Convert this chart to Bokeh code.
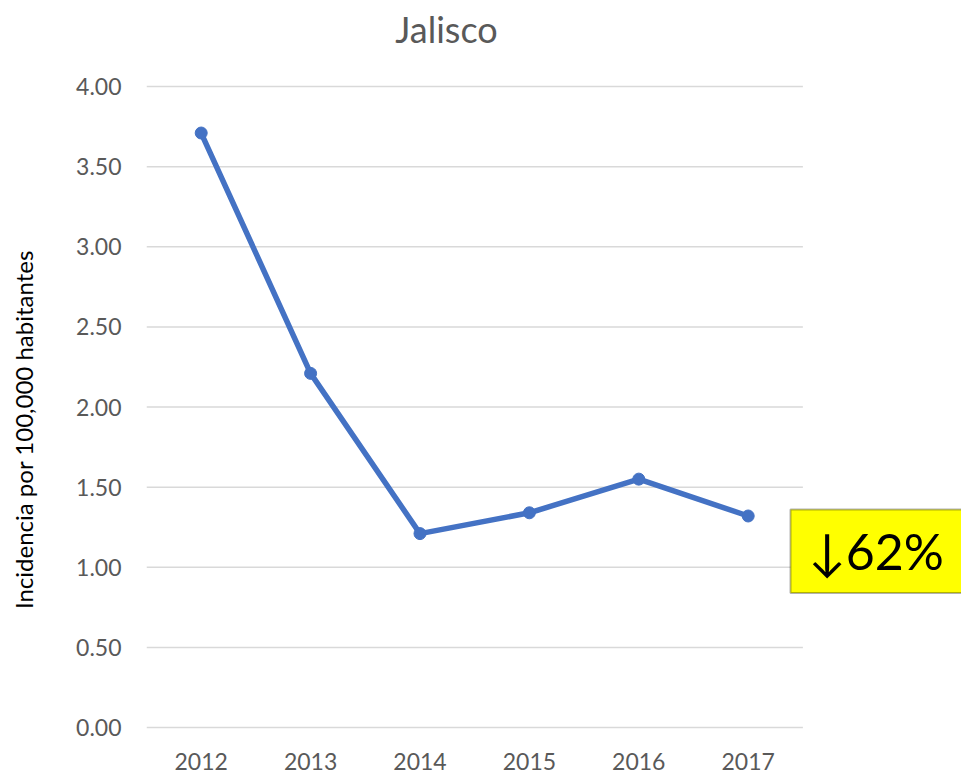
import math
from bokeh.plotting import figure
from bokeh.layouts import row
from bokeh.models import Range1d, FixedTicker, NumeralTickFormatter, BoxAnnotation, Label
from bokeh.core.properties import value
from bokeh.embed import file_html
from bokeh.resources import INLINE

title = "Jalisco"
years = ["2012", "2013", "2014", "2015", "2016", "2017"]
incidence = [3.71, 2.21, 1.21, 1.34, 1.55, 1.32]
y_ticks = [0.0, 0.5, 1.0, 1.5, 2.0, 2.5, 3.0, 3.5, 4.0]
y_label = "Incidencia por 100,000 habitantes"
badge_text = "\u219362%"
badge_value_top = 1.36
badge_value_bottom = 0.84

FONT = "Lato"
xs = list(range(len(years)))

# narrow strip holding the vertical axis title
LW = 40
pl = figure(width=LW, height=774, output_backend="svg", toolbar_location=None,
            x_range=Range1d(0, LW), y_range=Range1d(0, 774),
            x_axis_type=None, y_axis_type=None,
            min_border_left=0, min_border_right=0, min_border_top=0, min_border_bottom=0)
pl.outline_line_color = None
pl.xgrid.visible = False
pl.ygrid.visible = False
pl.text(x=[23], y=[319], text=[y_label], angle=math.pi / 2,
        text_font=value(FONT), text_font_size="24px", text_color="black",
        text_align="center", text_baseline="middle")

# main chart; the frame extends to the top so the title can sit inside it
p = figure(width=961 - LW, height=774, output_backend="svg", toolbar_location=None,
           x_range=Range1d(-0.5, 6.95), y_range=Range1d(-0.0187, 4.537),
           min_border_left=146 - LW, min_border_right=0, min_border_top=0, min_border_bottom=44)
p.outline_line_color = None
p.background_fill_color = "white"
p.border_fill_color = "white"
p.xgrid.visible = False
p.ygrid.visible = False

# grid lines spanning the category area only
p.segment(x0=[-0.5] * len(y_ticks), x1=[len(years) - 0.5] * len(y_ticks),
          y0=y_ticks, y1=y_ticks, line_color="#d9d9d9", line_width=1.5)

p.line(xs, incidence, line_color="#4472C4", line_width=5.5, line_join="round")
p.scatter(xs, incidence, size=12, fill_color="#4472C4", line_color="#4472C4")

# x axis
p.xaxis.ticker = FixedTicker(ticks=xs)
p.xaxis.major_label_overrides = {i: y for i, y in enumerate(years)}
p.xaxis.axis_line_color = None
p.xaxis.major_tick_line_color = None
p.xaxis.minor_tick_line_color = None
p.xaxis.major_label_text_font = FONT
p.xaxis.major_label_text_font_size = "23px"
p.xaxis.major_label_text_color = "#595959"
p.xaxis.major_label_standoff = 16

# y axis
p.yaxis.ticker = FixedTicker(ticks=y_ticks)
p.yaxis.formatter = NumeralTickFormatter(format="0.00")
p.yaxis.axis_line_color = None
p.yaxis.major_tick_line_color = None
p.yaxis.minor_tick_line_color = None
p.yaxis.major_label_text_font = FONT
p.yaxis.major_label_text_font_size = "23px"
p.yaxis.major_label_text_color = "#595959"
p.yaxis.major_label_standoff = 19

# chart title
p.add_layout(Label(x=2.242, y=4.362, text=title, text_font=FONT, text_font_size="36px",
                   text_color="#595959", text_align="center", text_baseline="middle"))

# badge
box = BoxAnnotation(left=5.387, right=8, top=badge_value_top, bottom=badge_value_bottom,
                    fill_color="#ffff00", fill_alpha=1.0, line_color="black", line_width=2)
p.add_layout(box)
lab = Label(x=5.55, y=(badge_value_top + badge_value_bottom) / 2, text=badge_text,
            text_font=FONT, text_font_size="50px", text_color="black", text_baseline="middle")
p.add_layout(lab)

layout = row(pl, p, spacing=0)
open("out.html", "w").write(file_html(layout, INLINE))
